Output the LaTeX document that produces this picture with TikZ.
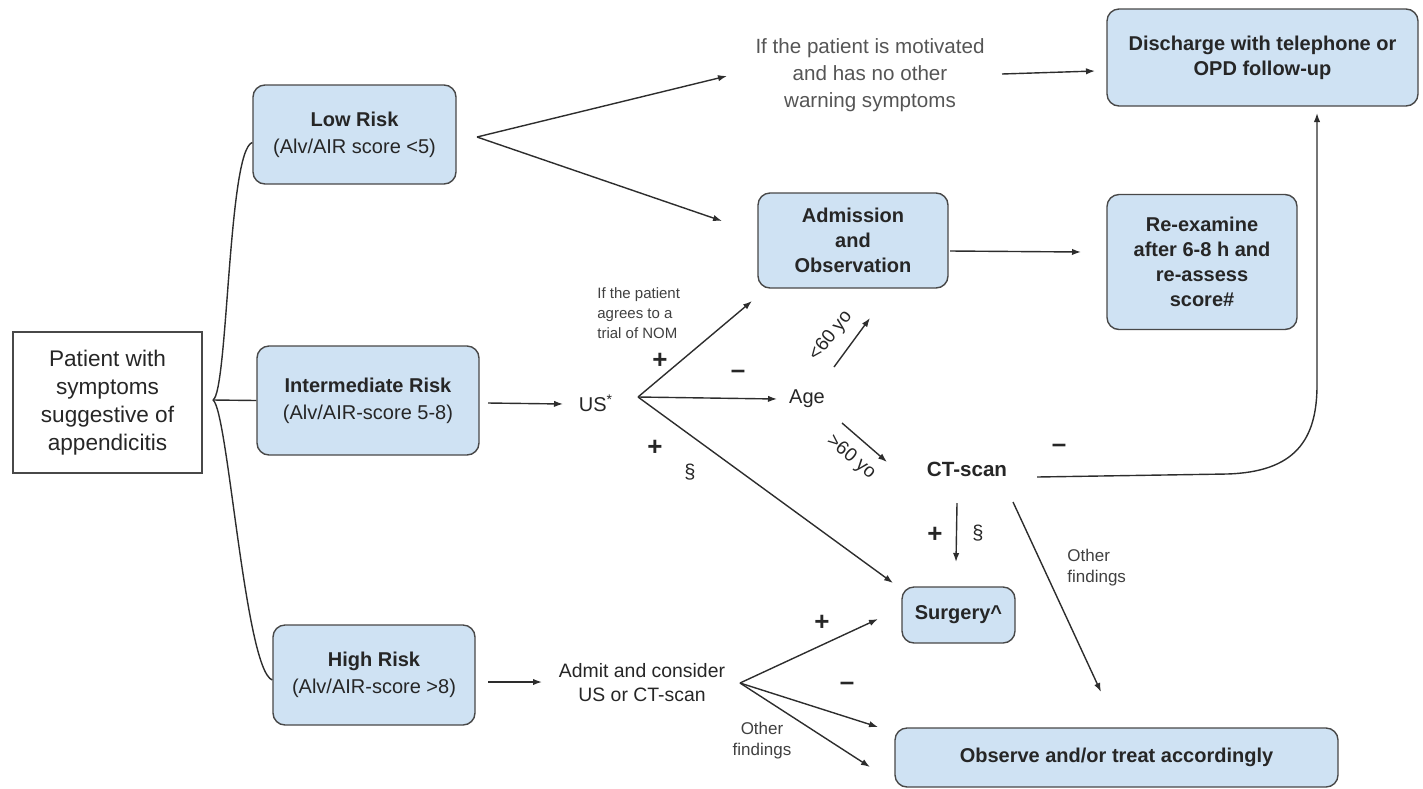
\documentclass[tikz,border=0pt]{standalone}
\usepackage{fontspec}
\setmainfont{Liberation Sans}
\usetikzlibrary{arrows.meta}
\definecolor{boxblue}{RGB}{207,226,243}
\definecolor{boxline}{RGB}{72,72,72}
\definecolor{lineg}{RGB}{45,45,45}
\definecolor{txtg}{RGB}{85,85,85}

\begin{document}
\begin{tikzpicture}[x=0.5pt,y=-0.5pt]
        \tikzstyle{every node} = [inner sep=0pt, align=center, text=black!85, font=\fontsize{10}{12.6}\selectfont];
        \tikzstyle{box} = [draw=boxline, fill=boxblue, rounded corners=6pt, line width=0.7pt, font=\fontsize{10}{12.6}\selectfont\bfseries];
        \tikzstyle{risk} = [box, font=\fontsize{10}{13.5}\selectfont\bfseries];
        \tikzstyle{ln} = [draw=lineg, line width=0.7pt];
        \tikzstyle{arr} = [ln, -{Latex[length=4.5pt,width=3.2pt]}];
        \tikzstyle{sgn} = [font=\fontsize{13}{13}\selectfont\bfseries];
        \tikzstyle{small} = [text=black!75, font=\fontsize{8.5}{10.5}\selectfont];
        \useasboundingbox (0,0) rectangle (1423,788);

        \node[draw=boxline, line width=0.7pt, minimum width=94.5pt, minimum height=70.5pt, font=\fontsize{11.3}{14}\selectfont] (pat) at (107.5,402.5) {Patient with\\symptoms\\suggestive of\\appendicitis};
        \node[risk, minimum width=101.5pt, minimum height=49.5pt] (low) at (354.5,134.5) {Low Risk\\\textmd{(Alv/AIR score <5)}};
        \node[risk, minimum width=111pt, minimum height=54.5pt] (mid) at (368,400.5) {Intermediate Risk\\\textmd{(Alv/AIR-score 5-8)}};
        \node[risk, minimum width=101pt, minimum height=50pt] (high) at (374,675) {High Risk\\\textmd{(Alv/AIR-score >8)}};
        \node[text=txtg, font=\fontsize{10.3}{13.5}\selectfont] (motiv) at (870,75) {If the patient is motivated\\and has no other\\warning symptoms};
        \node[box, minimum width=155.5pt, minimum height=48.5pt] (disch) at (1262.5,57.5) {Discharge with telephone or\\OPD follow-up};
        \node[box, minimum width=95pt, minimum height=47.5pt] (adm) at (853,240.5) {Admission\\and\\Observation};
        \node[box, minimum width=95pt, minimum height=67.5pt] (reex) at (1202,262) {Re-examine\\after 6-8 h and\\re-assess\\score\#};
        \node (us) at (596,403) {US\textsuperscript{*}};
        \node[small, anchor=west, align=left, font=\fontsize{7.5}{10}\selectfont] (nom) at (597,313) {If the patient\\agrees to a\\trial of NOM};
        \node (age) at (807,399) {Age};
        \node[rotate=52, font=\fontsize{9.5}{11}\selectfont] (yng) at (831,336) {<60 yo};
        \node[rotate=-40, font=\fontsize{9.5}{11}\selectfont] (old) at (851,457) {>60 yo};
        \node[font=\fontsize{10.3}{12}\selectfont\bfseries] (ct) at (967,469) {CT-scan};
        \node[box, minimum width=56.5pt, minimum height=28pt] (surg) at (958.5,615) {Surgery\textasciicircum};
        \node[small, anchor=west, align=left] (oth1) at (1067,568) {Other\\findings};
        \node[font=\fontsize{9.7}{12}\selectfont] (admit) at (642,683) {Admit and consider\\US or CT-scan};
        \node[small] (oth2) at (762,741) {Other\\findings};
        \node[box, minimum width=221.5pt, minimum height=29.5pt] (obs) at (1116.5,757.5) {Observe and/or treat accordingly};

        \node[sgn] (p1) at (660,361) {+};
        \node[sgn] (m1) at (738,374) {--};
        \node[sgn] (p2) at (655,448) {+};
        \node (s1) at (690,472) {\S};
        \node[sgn] (p3) at (935,535) {+};
        \node (s2) at (978,533) {\S};
        \node[sgn] (m2) at (1059,448) {--};
        \node[sgn] (p4) at (822,623) {+};
        \node[sgn] (m3) at (847,686) {--};

        \coordinate (br) at (213,400);
        \coordinate (lowf) at (477,137);
        \coordinate (usf) at (638,397);
        \coordinate (admf) at (740,683);
        \coordinate (c3k) at (1227,474);
        \coordinate (c3e) at (1317,113);

        \draw[ln] (br) .. controls (228,392) and (228,150) .. ([yshift=-4pt]low.west);
        \draw[ln] (br) -- (mid.west);
        \draw[ln] (br) .. controls (228,410) and (245,670) .. ([yshift=-2.5pt]high.west);

        \path (lowf) edge[arr] (727,76) edge[arr] (722,221);
        \draw[arr] (1002,74) -- (1095,71);
        \draw[arr] (950,251) -- (1081,252);
        \draw[arr] (488,403) -- (563,404);
        \path (usf) edge[arr] (752,301) edge[arr] (777,399) edge[arr] (893,583);
        \draw[arr] (834,367) -- (870,318);
        \draw[arr] (842,423) -- (887,462);
        \draw[arr] (957,503) -- (956,562);
        \draw[arr] (1013,502) -- (1101,692);
        \draw[arr] (1037,477) -- (c3k) .. controls (1295,472) and (1317,440) .. (1317,385) -- (c3e);
        \draw[arr] (488,682) -- (542,682);
        \path (admf) edge[arr] (878,619) edge[arr] (878,727) edge[arr] (870,767);
\end{tikzpicture}
\end{document}
